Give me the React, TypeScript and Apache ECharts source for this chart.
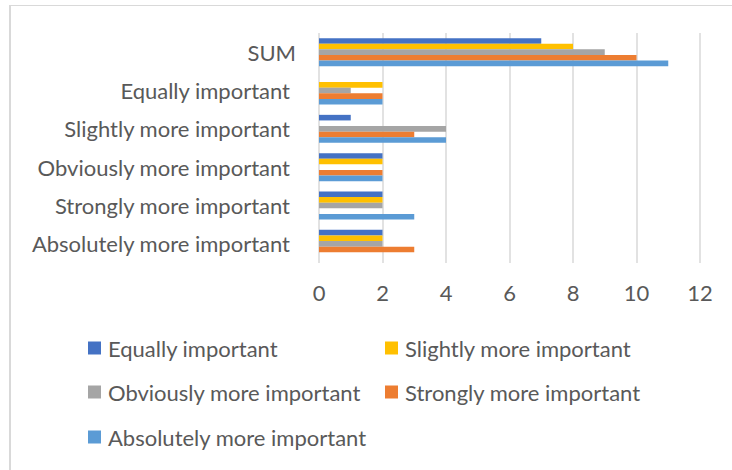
import React, { useEffect, useRef } from "react";
import * as echarts from "echarts";

// Categories from bottom to top of the vertical axis
const categories = [
  "Absolutely more important",
  "Strongly more important",
  "Obviously more important",
  "Slightly more important",
  "Equally important",
  "SUM",
];

const seriesNames = [
  "Equally important",
  "Slightly more important",
  "Obviously more important",
  "Strongly more important",
  "Absolutely more important",
];

// Values per series, in the same order as categories
const equallyValues = [2, 2, 2, 1, 0, 7];
const slightlyValues = [2, 2, 2, 0, 2, 8];
const obviouslyValues = [2, 2, 0, 4, 1, 9];
const stronglyValues = [3, 0, 2, 3, 2, 10];
const absolutelyValues = [0, 3, 2, 4, 2, 11];

const seriesValues = [equallyValues, slightlyValues, obviouslyValues, stronglyValues, absolutelyValues];
const seriesColors = ["#4472C4", "#FFC000", "#A5A5A5", "#ED7D31", "#5B9BD5"];

const xTicks = { min: 0, max: 12, interval: 2 };

const FONT = "Lato";
const FONT_SIZE = 22;
const TEXT_COLOR = "#595959";
const LINE_COLOR = "#D9D9D9";

export default function App() {
  const ref = useRef<HTMLDivElement>(null);

  useEffect(() => {
    if (!ref.current) return;
    const chart = echarts.init(ref.current, undefined, { renderer: "svg" });

    const textBase = { fontFamily: FONT, fontSize: FONT_SIZE, color: TEXT_COLOR };

    const legendBase = {
      left: 88,
      orient: "horizontal",
      padding: 0,
      icon: "rect",
      itemWidth: 13,
      itemHeight: 13,
      itemGap: 17,
      selectedMode: false,
      textStyle: {
        ...textBase,
        width: 260,
        lineHeight: 24,
        padding: [0, 0, 0, 2],
      },
    };

    chart.setOption({
      animation: false,
      backgroundColor: "#ffffff",
      grid: { left: 319, right: 32, top: 33, bottom: 207, containLabel: false },
      xAxis: {
        type: "value",
        min: xTicks.min,
        max: xTicks.max,
        interval: xTicks.interval,
        axisLine: { show: false },
        axisTick: { show: false },
        axisLabel: { ...textBase, margin: 18 },
        splitLine: { show: true, lineStyle: { color: LINE_COLOR, width: 1.5 } },
      },
      yAxis: {
        type: "category",
        data: categories,
        axisLine: { show: false },
        axisTick: { show: false },
        axisLabel: {
          ...textBase,
          margin: 23,
          // the total row sits a little further right than the other rows
          formatter: (v: string) => (v === "SUM" ? `{s|${v}}` : `{n|${v}}`),
          rich: {
            n: { ...textBase, padding: [0, 6, 0, 0] },
            s: { ...textBase },
          },
        },
        splitLine: { show: false },
      },
      legend: [
        { ...legendBase, top: 336, data: [seriesNames[0], seriesNames[1]] },
        { ...legendBase, top: 380, data: [seriesNames[2], seriesNames[3]] },
        { ...legendBase, top: 425, data: [seriesNames[4]] },
      ],
      series: seriesNames.map((name, i) => ({
        name,
        type: "bar",
        data: seriesValues[i],
        barGap: "0%",
        barCategoryGap: "27%",
        itemStyle: { color: seriesColors[i] },
      })),
      graphic: [
        {
          type: "line",
          shape: { x1: 9, y1: 5.5, x2: 732, y2: 5.5 },
          style: { stroke: LINE_COLOR, lineWidth: 1 },
          silent: true,
        },
        {
          type: "line",
          shape: { x1: 10, y1: 5, x2: 10, y2: 470 },
          style: { stroke: LINE_COLOR, lineWidth: 2 },
          silent: true,
        },
      ],
    });

    return () => chart.dispose();
  }, []);

  return (
    <div
      ref={ref}
      style={{ position: "absolute", left: 0, top: 0, width: 732, height: 470 }}
    />
  );
}
